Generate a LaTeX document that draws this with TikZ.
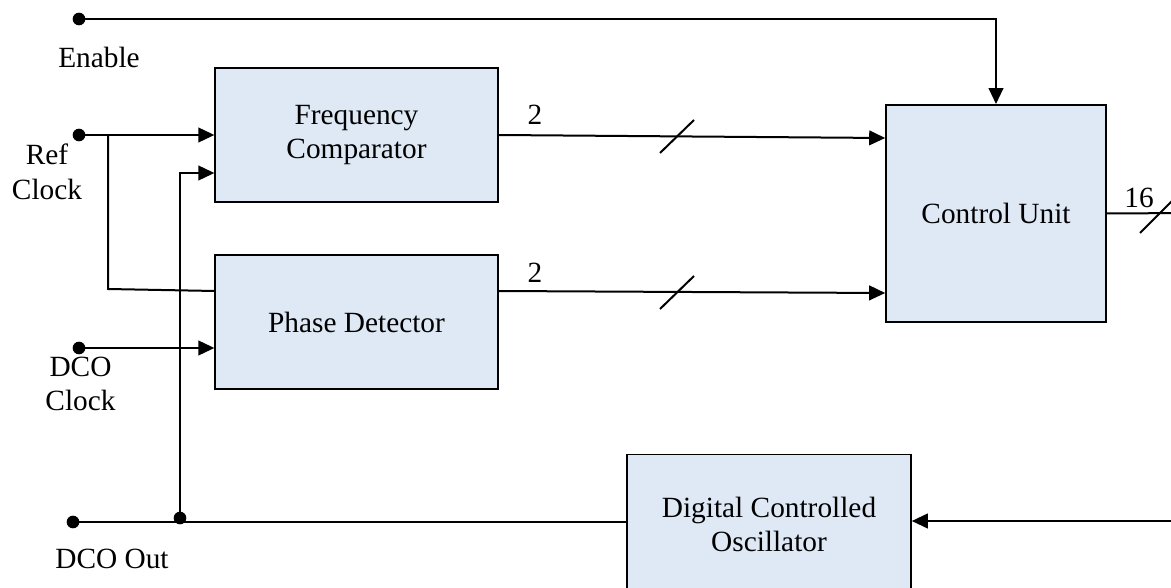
\documentclass[tikz,border=0pt]{standalone}
\usepackage{fontspec}
\setmainfont{Liberation Serif}
\usetikzlibrary{arrows.meta,calc}
\definecolor{boxfill}{RGB}{222,233,245}
\begin{document}
\begin{tikzpicture}[x=0.75pt,y=-0.75pt,
  every node/.style={font=\fontsize{22}{26}\selectfont, align=center, inner sep=0pt},
  block/.style={draw=black, line width=1.2pt, fill=boxfill, rectangle},
  wire/.style={line width=1.5pt},
  sig/.style={wire, -{Triangle[length=12pt,width=11pt]}},
  bus/.style={line width=1.5pt},
  dot/.style={circle, fill=black, minimum size=9.5pt, inner sep=0pt}]
\useasboundingbox (0,0) rectangle (1171,588);

% functional blocks
\node[block, minimum width=212pt, minimum height=100.5pt] (fc) at (356.5,135) {Frequency\\Comparator};
\node[block, minimum width=212pt, minimum height=100.5pt] (pd) at (356.5,322) {Phase Detector};
\node[block, minimum width=165pt, minimum height=163pt] (cu) at (996,213.5) {Control Unit};
\node[block, minimum width=213pt, minimum height=105pt] (dco) at (769,524.5) {Digital Controlled\\Oscillator};

% terminals
\node[dot] (en) at (79,19) {};
\node[dot] (ref) at (79,135) {};
\node[dot] (dclk) at (79,348) {};
\node[dot] (dout) at (73,522) {};
\node[dot] (jn) at (180,518) {};

% terminal labels
\node (lEn) at (99,57) {Enable};
\node (lRef) at (47,172) {Ref\\Clock};
\node (lDclk) at (80.5,384) {DCO\\Clock};
\node (lDout) at (112,559) {DCO Out};

% helper points
\coordinate (brk) at (108,135);
\coordinate (brkLow) at (108,289);
\coordinate (pdIn) at (215,291);
\coordinate (fbTop) at (180,173);
\coordinate (cuOut) at (1190,213);
\coordinate (dcoIn) at (1190,521);

% enable line
\draw[sig] (en.center) -- (996,19) -- (cu.north);

% reference clock to both detectors
\draw[sig] (ref.center) -- (fc.west |- ref);
\draw[wire] (brk) -- (brkLow) -- (pdIn);

% fed-back DCO clock into frequency comparator
\draw[sig] (jn.center) -- (fbTop) -- (fc.west |- fbTop);

% DCO clock into phase detector
\draw[sig] (dclk.center) -- (pd.west |- dclk);

% detector outputs into control unit
\draw[sig] ($(fc.east)+(0,0)$) -- ($(cu.west)+(0,-75.5)$);
\draw[sig] ($(pd.east)+(0,-31)$) -- ($(cu.west)+(0,79.5)$);
\draw[bus] (660,153) -- (694,120);
\draw[bus] (660,309) -- (694,276);
\node (w1) at (535,115) {2};
\node (w2) at (535,273) {2};

% control word out of control unit
\draw[wire] (cu.east) -- (cuOut);
\draw[bus] (1140,233) -- (1180,193);
\node (w3) at (1139,198) {16};

% control word into oscillator
\draw[sig] (dcoIn) -- (dco.east |- dcoIn);

% oscillator output
\draw[wire] (dco.west |- dout) -- (dout.center);
\end{tikzpicture}
\end{document}
